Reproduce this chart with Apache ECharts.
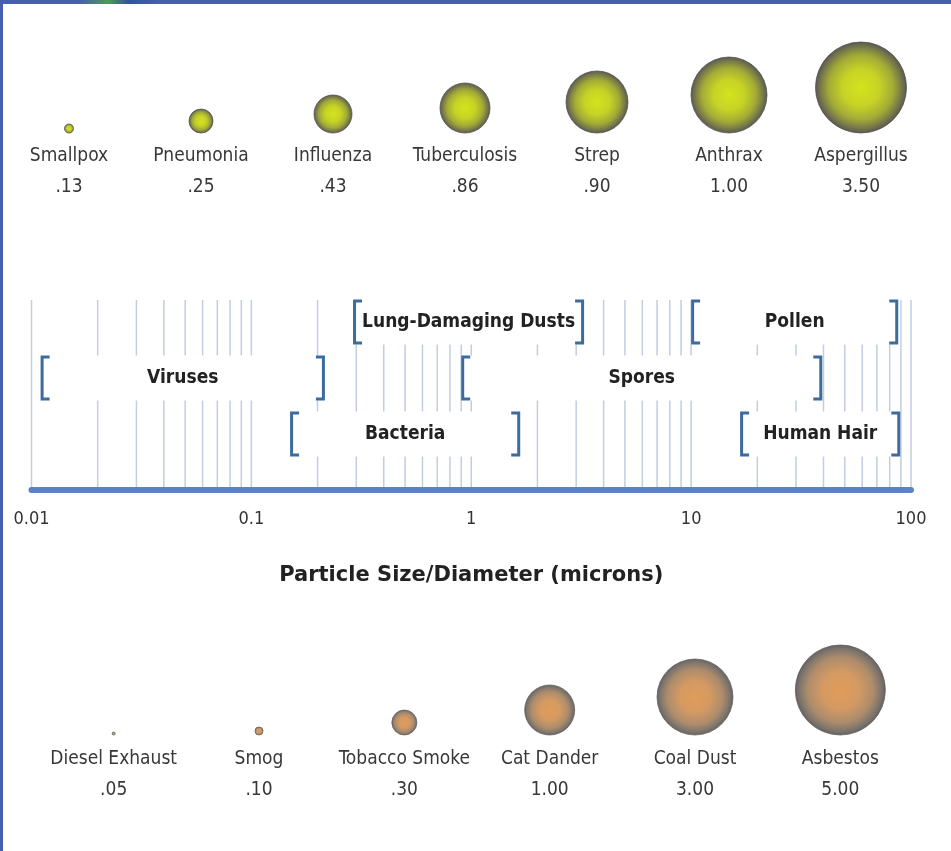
<!DOCTYPE html>
<html><head><meta charset="utf-8">
<script src="https://cdn.jsdelivr.net/npm/echarts@6/dist/echarts.min.js"></script>
<style>html,body{margin:0;padding:0;background:#fff}#c{width:951px;height:851px}</style>
</head><body><div id="c"></div>
<script>
// ---------------- DATA ----------------
const pathogenNames  = ['Smallpox','Pneumonia','Influenza','Tuberculosis','Strep','Anthrax','Aspergillus'];
const pathogenSizes  = [0.13, 0.25, 0.43, 0.86, 0.90, 1.00, 3.50];
const pathogenLabels = ['.13','.25','.43','.86','.90','1.00','3.50'];

const particleNames  = ['Diesel Exhaust','Smog','Tobacco Smoke','Cat Dander','Coal Dust','Asbestos'];
const particleSizes  = [0.05, 0.10, 0.30, 1.00, 3.00, 5.00];
const particleLabels = ['.05','.10','.30','1.00','3.00','5.00'];

const rangeNames = ['Viruses','Bacteria','Lung-Damaging Dusts','Spores','Pollen','Human Hair'];
const rangeMin   = [0.011, 0.15, 0.29, 0.90, 10.0, 16.7];
const rangeMax   = [0.216, 1.67, 3.26, 39.5, 87.5, 89.4];

const tickLabels = ['0.01','0.1','1','10','100'];
const gridTicks  = [0.01,0.02,0.03,0.04,0.05,0.06,0.07,0.08,0.09,
                    0.1,0.2,0.3,0.4,0.5,0.6,0.7,0.8,0.9,
                    1,2,3,4,5,6,7,8,9,
                    10,20,30,40,50,60,70,80,90,100];
const axisTitle = 'Particle Size/Diameter (microns)';

// ---------------- LAYOUT / STYLE ----------------
const laneNames = ['lane1','lane2','lane3'];
const rangeLane = ['lane2','lane3','lane1','lane2','lane1','lane3'];
const pathogenDot = [9, 24, 38, 50, 62, 76, 91];
const particleDot = [3, 8, 25, 50, 76, 90];
const NARROW = "'Liberation Sans Narrow','DejaVu Sans Condensed','Roboto Condensed',sans-serif";
const BRACKET = '#3d6b9c';

const greenFill = {type:'radial',x:0.5,y:0.5,r:0.5,colorStops:[
  {offset:0,color:'#d4e31c'},{offset:0.4,color:'#c6d326'},{offset:0.7,color:'#a3ab36'},
  {offset:0.88,color:'#787a48'},{offset:1,color:'#575753'}]};
const orangeFill = {type:'radial',x:0.5,y:0.5,r:0.5,colorStops:[
  {offset:0,color:'#e09c5a'},{offset:0.4,color:'#d49a62'},{offset:0.72,color:'#ad8c6c'},
  {offset:0.9,color:'#7e756c'},{offset:1,color:'#646160'}]};

const chart = echarts.init(document.getElementById('c'), null, {renderer:'canvas'});

const labelRich = {
  n:{fontSize:19,lineHeight:31,color:'#383838',fontFamily:NARROW},
  v:{fontSize:19,lineHeight:31,color:'#383838',fontFamily:NARROW}
};

const option = {
  backgroundColor:'#ffffff',
  animation:false,
  graphic:[
    {type:'rect',shape:{x:0,y:0,width:951,height:4},style:{fill:'#4660ae'},z:100},
    {type:'rect',shape:{x:80,y:0,width:80,height:4},style:{fill:{type:'linear',x:0,y:0,x2:1,y2:0,colorStops:[
      {offset:0,color:'#4660ae'},{offset:0.35,color:'#4f9a52'},{offset:0.6,color:'#2f55a0'},{offset:1,color:'#4660ae'}]}},z:101},
    {type:'rect',shape:{x:0,y:0,width:3,height:851},style:{fill:'#4660ae'},z:100}
  ],
  grid:[
    {left:31.5,right:40,top:300,bottom:361},     // axis + grid lines
    {left:31.5,right:40,top:294,bottom:389},     // bracket lanes
    {left:3,right:24,top:30,bottom:718},         // pathogens
    {left:41,right:38,top:600,bottom:116}        // particles
  ],
  xAxis:[
    {gridIndex:0,type:'log',logBase:10,min:0.01,max:100,
     axisLine:{show:true,lineStyle:{color:'#5a84c0',width:6}},
     axisTick:{show:false},splitLine:{show:false},
     axisLabel:{margin:20,fontSize:18,color:'#333',fontFamily:NARROW,
       formatter:v=>{const k=Math.round(Math.log10(v))+2;return tickLabels[k]||'';}},
     name:axisTitle,nameLocation:'middle',nameGap:75,
     nameTextStyle:{fontSize:21,fontWeight:'bold',color:'#222',fontFamily:"'DejaVu Sans',sans-serif"}},
    {gridIndex:1,type:'log',logBase:10,min:0.01,max:100,show:false},
    {gridIndex:2,type:'category',data:pathogenNames,axisLine:{show:false},axisTick:{show:false},
     axisLabel:{interval:0,margin:8,formatter:(v,i)=>'{n|'+v+'}\n{v|'+pathogenLabels[i]+'}',rich:labelRich}},
    {gridIndex:3,type:'category',data:particleNames,axisLine:{show:false},axisTick:{show:false},
     axisLabel:{interval:0,margin:9,formatter:(v,i)=>'{n|'+v+'}\n{v|'+particleLabels[i]+'}',rich:labelRich}}
  ],
  yAxis:[
    {gridIndex:0,type:'value',min:0,max:1,show:false},
    {gridIndex:1,type:'category',data:laneNames,inverse:true,show:false},
    {gridIndex:2,type:'value',min:0,max:1,show:false},
    {gridIndex:3,type:'value',min:0,max:1,show:false}
  ],
  series:[
    {type:'custom',xAxisIndex:0,yAxisIndex:0,z:1,silent:true,clip:false,
     data:gridTicks.map(v=>[v]),encode:{x:0},
     renderItem:(params,api)=>{
       const a=api.coord([api.value(0),0]);const b=api.coord([api.value(0),1]);
       return {type:'line',shape:{x1:a[0],y1:a[1]-3,x2:b[0],y2:b[1]},style:{stroke:'#c2cde2',lineWidth:1.5}};
     }},
    {type:'custom',xAxisIndex:1,yAxisIndex:1,z:3,silent:true,clip:false,
     data:rangeNames.map((n,i)=>[rangeMin[i],rangeMax[i],rangeLane[i]]),encode:{x:[0,1],y:2},
     renderItem:(params,api)=>{
       const i=params.dataIndex;
       const lane=rangeLane[i];
       const p0=api.coord([rangeMin[i],lane]);const p1=api.coord([rangeMax[i],lane]);
       const h=45;const top=p0[1]-h/2,bot=p0[1]+h/2;const x0=p0[0],x1=p1[0];
       const arm=9;
       return {type:'group',children:[
         {type:'rect',shape:{x:x0,y:top,width:x1-x0,height:h},style:{fill:'#ffffff'}},
         {type:'polyline',shape:{points:[[x0+arm,top+1.5],[x0+1.5,top+1.5],[x0+1.5,bot-1.5],[x0+arm,bot-1.5]]},
          style:{stroke:BRACKET,lineWidth:3,fill:null}},
         {type:'polyline',shape:{points:[[x1-arm,top+1.5],[x1-1.5,top+1.5],[x1-1.5,bot-1.5],[x1-arm,bot-1.5]]},
          style:{stroke:BRACKET,lineWidth:3,fill:null}},
         {type:'text',x:(x0+x1)/2,y:p0[1],style:{text:rangeNames[i],align:'center',verticalAlign:'middle',
          fontSize:19,fontWeight:'bold',fontFamily:NARROW,fill:'#222'}}
       ]};
     }},
    {type:'scatter',xAxisIndex:2,yAxisIndex:2,clip:false,
     data:pathogenNames.map((n,i)=>({name:n,value:[n,0,pathogenSizes[i]],symbolSize:pathogenDot[i],symbolOffset:[0,-pathogenDot[i]/2]})),
     itemStyle:{color:greenFill,borderColor:'rgba(80,80,76,0.75)',borderWidth:1,opacity:1}},
    {type:'scatter',xAxisIndex:3,yAxisIndex:3,clip:false,
     data:particleNames.map((n,i)=>({name:n,value:[n,0,particleSizes[i]],symbolSize:particleDot[i],symbolOffset:[0,-particleDot[i]/2]})),
     itemStyle:{color:orangeFill,borderColor:'rgba(96,94,92,0.75)',borderWidth:1,opacity:1}}
  ]
};
chart.setOption(option);
</script></body></html>
